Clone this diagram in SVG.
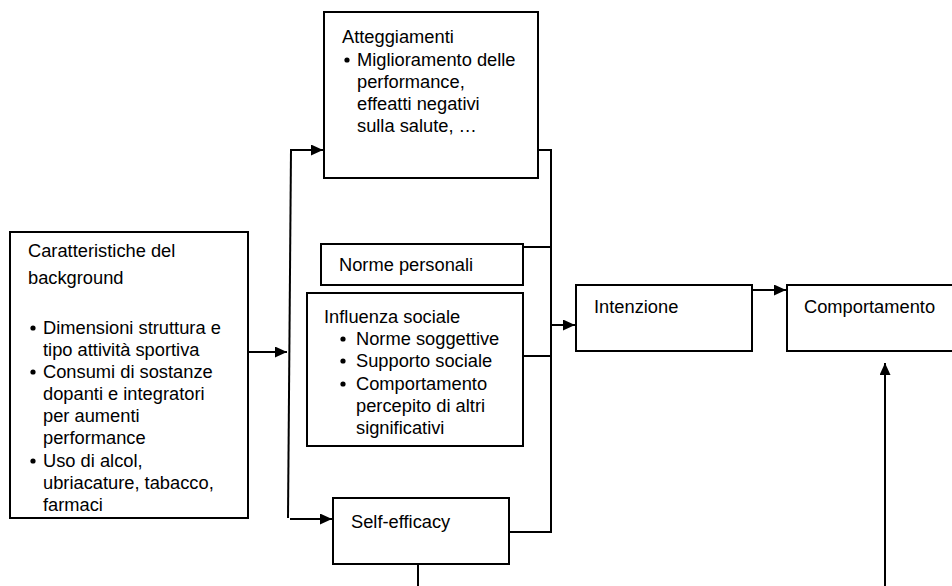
<svg xmlns="http://www.w3.org/2000/svg" width="952" height="586" viewBox="0 0 952 586">
<style>
  .box{fill:#fff;stroke:#000;stroke-width:2}
  .t{font-family:"Liberation Sans",Arial,sans-serif;font-size:18.3px;fill:#000}
  .c{fill:none;stroke:#000;stroke-width:2}
  .b{fill:#000}
</style>
<defs>
  <marker id="ah" markerWidth="13" markerHeight="11" refX="12" refY="5.5" orient="auto" markerUnits="userSpaceOnUse">
    <path d="M0,0 L12,5.5 L0,11 z" fill="#000"/>
  </marker>
</defs>
<rect width="952" height="586" fill="#fff"/>
<g id="connectors">
  <line class="c" x1="248" y1="352" x2="287" y2="352" marker-end="url(#ah)"/>
  <path class="c" d="M291,150 L288,518"/>
  <line class="c" x1="290" y1="150" x2="323" y2="150" marker-end="url(#ah)"/>
  <line class="c" x1="290" y1="519" x2="332" y2="519" marker-end="url(#ah)"/>
  <polyline class="c" points="538,150 551,150 551,532 509,532"/>
  <line class="c" x1="523" y1="247" x2="551" y2="247"/>
  <line class="c" x1="523" y1="356" x2="551" y2="356"/>
  <line class="c" x1="551" y1="325" x2="575" y2="325" marker-end="url(#ah)"/>
  <line class="c" x1="752" y1="290" x2="786" y2="290" marker-end="url(#ah)"/>
  <line class="c" x1="418" y1="564" x2="418" y2="586"/>
  <line class="c" x1="885" y1="586" x2="885" y2="363" marker-end="url(#ah)"/>
</g>
<g id="background">
  <rect class="box" x="10" y="232" width="238" height="286"/>
  <text class="t" x="28" y="257">Caratteristiche del</text>
  <text class="t" x="28" y="284">background</text>
  <circle class="b" cx="33" cy="328" r="2.6"/>
  <text class="t" x="43" y="334">Dimensioni struttura e</text>
  <text class="t" x="43" y="356">tipo attività sportiva</text>
  <circle class="b" cx="33" cy="372" r="2.6"/>
  <text class="t" x="43" y="378">Consumi di sostanze</text>
  <text class="t" x="43" y="400">dopanti e integratori</text>
  <text class="t" x="43" y="422">per aumenti</text>
  <text class="t" x="43" y="444">performance</text>
  <circle class="b" cx="33" cy="461" r="2.6"/>
  <text class="t" x="43" y="467">Uso di alcol,</text>
  <text class="t" x="43" y="489">ubriacature, tabacco,</text>
  <text class="t" x="43" y="511">farmaci</text>
</g>
<g id="atteggiamenti">
  <rect class="box" x="324" y="12" width="214" height="166"/>
  <text class="t" x="342" y="43">Atteggiamenti</text>
  <circle class="b" cx="347" cy="60" r="2.6"/>
  <text class="t" x="357" y="66">Miglioramento delle</text>
  <text class="t" x="357" y="88">performance,</text>
  <text class="t" x="357" y="110">effeatti negativi</text>
  <text class="t" x="357" y="132">sulla salute, …</text>
</g>
<g id="norme-personali">
  <rect class="box" x="321" y="244" width="202" height="41"/>
  <text class="t" x="339" y="271">Norme personali</text>
</g>
<g id="influenza-sociale">
  <rect class="box" x="307" y="293" width="216" height="153"/>
  <text class="t" x="324" y="323">Influenza sociale</text>
  <circle class="b" cx="343" cy="339" r="2.6"/>
  <text class="t" x="356" y="345">Norme soggettive</text>
  <circle class="b" cx="343" cy="361" r="2.6"/>
  <text class="t" x="356" y="367">Supporto sociale</text>
  <circle class="b" cx="343" cy="384" r="2.6"/>
  <text class="t" x="356" y="390">Comportamento</text>
  <text class="t" x="356" y="412">percepito di altri</text>
  <text class="t" x="356" y="434">significativi</text>
</g>
<g id="self-efficacy">
  <rect class="box" x="333" y="498" width="176" height="66"/>
  <text class="t" x="351" y="528">Self-efficacy</text>
</g>
<g id="intenzione">
  <rect class="box" x="576" y="285" width="176" height="66"/>
  <text class="t" x="594" y="313">Intenzione</text>
</g>
<g id="comportamento">
  <rect class="box" x="787" y="285" width="175" height="66"/>
  <text class="t" x="804" y="313">Comportamento</text>
</g>
</svg>
